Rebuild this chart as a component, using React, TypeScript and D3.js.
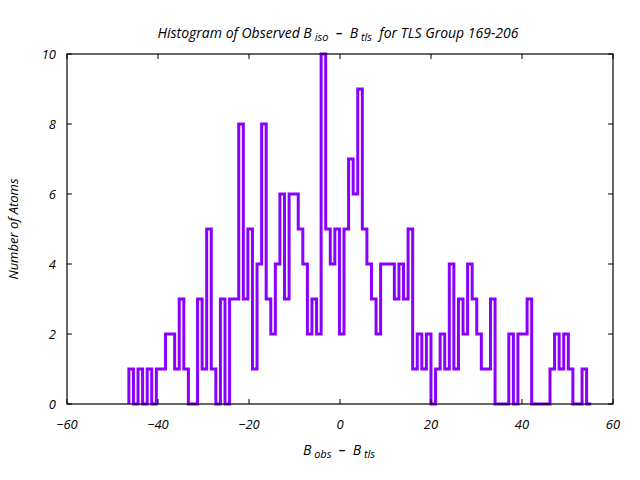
import React from "react";
import * as d3 from "d3";

const binStart = -46.4;
const binWidth = 1.006;
const counts = [
  1, 0, 1, 0, 1, 0, 1, 1, 2, 2,
  1, 3, 1, 0, 0, 3, 1, 5, 1, 0,
  3, 0, 3, 3, 8, 3, 5, 1, 4, 8,
  3, 2, 4, 6, 3, 6, 6, 5, 4, 2,
  3, 2, 10, 5, 4, 5, 2, 5, 7, 6,
  9, 5, 4, 3, 2, 4, 4, 4, 3, 4,
  3, 5, 1, 2, 1, 2, 0, 1, 2, 1,
  4, 1, 3, 2, 4, 3, 2, 1, 1, 3,
  0, 0, 0, 2, 0, 2, 2, 3, 0, 0,
  0, 0, 1, 2, 1, 2, 1, 0, 0, 1,
  0,
];
const xTicks = [-60, -40, -20, 0, 20, 40, 60];
const yTicks = [0, 2, 4, 6, 8, 10];

const W = 640, H = 480;
const left = 67, right = 613, top = 54, bottom = 404;
const FONT = "'Open Sans', Lato, sans-serif";

export default function App() {
  const x = d3.scaleLinear().domain([-60, 60]).range([left, right]);
  const y = d3.scaleLinear().domain([0, 10]).range([bottom, top]);

  const pts: [number, number][] = [[binStart, 0]];
  counts.forEach((c, i) => pts.push([binStart + i * binWidth, c]));
  pts.push([binStart + counts.length * binWidth, counts[counts.length - 1]]);
  pts.push([binStart + counts.length * binWidth, 0]);

  const line = d3
    .line<[number, number]>()
    .x((d) => x(d[0]))
    .y((d) => y(d[1]))
    .curve(d3.curveStepAfter);

  const tl = 5;
  const pre = { whiteSpace: "pre" as const };
  return (
    <svg width={W} height={H} style={{ display: "block", position: "absolute", left: 0, top: 0, background: "#fff" }}>
      <rect x={0} y={0} width={W} height={H} fill="#fff" />
      <path d={line(pts) || ""} fill="none" stroke="#8a00ff" strokeWidth={3} strokeLinejoin="miter" />
      <rect x={left} y={top} width={right - left} height={bottom - top} fill="none" stroke="#000" strokeWidth={1.2} />
      {xTicks.map((t) => (
        <g key={"x" + t}>
          <line x1={x(t)} x2={x(t)} y1={bottom} y2={bottom - tl} stroke="#000" />
          <line x1={x(t)} x2={x(t)} y1={top} y2={top + tl} stroke="#000" />
          <text x={x(t)} y={429} textAnchor="middle" fontFamily={FONT} fontStyle="italic" fontSize={13} fill="#000">
            {t === 0 ? "0" : t < 0 ? "\u2212" + Math.abs(t) : String(t)}
          </text>
        </g>
      ))}
      {yTicks.map((t) => (
        <g key={"y" + t}>
          <line x1={left} x2={left + tl} y1={y(t)} y2={y(t)} stroke="#000" />
          <line x1={right} x2={right - tl} y1={y(t)} y2={y(t)} stroke="#000" />
          <text x={56} y={y(t) + 5} textAnchor="end" fontFamily={FONT} fontStyle="italic" fontSize={13} fill="#000">
            {t}
          </text>
        </g>
      ))}
      <text x={338} y={38} textAnchor="middle" fontFamily={FONT} fontStyle="italic" fontSize={14} fill="#000" style={pre}>
        <tspan>Histogram of Observed B</tspan>
        <tspan fontSize={11} dy={3}> iso</tspan>
        <tspan dy={-3}>  –  B</tspan>
        <tspan fontSize={11} dy={3}> tls</tspan>
        <tspan dy={-3}>  for TLS Group 169-206</tspan>
      </text>
      <text x={339} y={455} textAnchor="middle" fontFamily={FONT} fontStyle="italic" fontSize={14} fill="#000" style={pre}>
        <tspan>B</tspan>
        <tspan fontSize={11} dy={3}> obs</tspan>
        <tspan dy={-3}>  –  B</tspan>
        <tspan fontSize={11} dy={3}> tls</tspan>
      </text>
      <text transform={`translate(18,229) rotate(-90)`} textAnchor="middle" fontFamily={FONT} fontStyle="italic" fontSize={13} fill="#000">
        Number of Atoms
      </text>
    </svg>
  );
}
